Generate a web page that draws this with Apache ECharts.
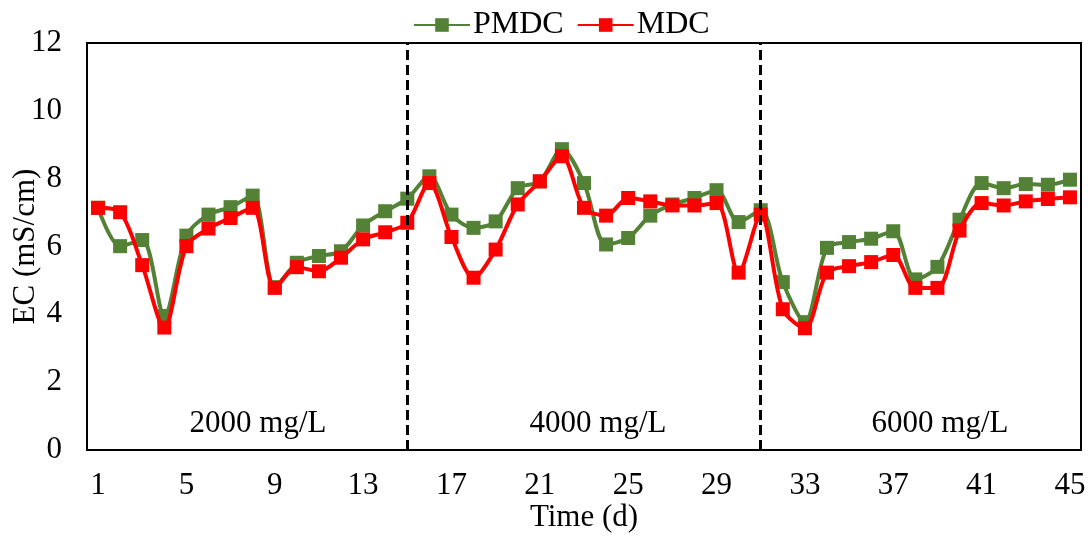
<!DOCTYPE html>
<html>
<head>
<meta charset="utf-8">
<script src="https://cdn.jsdelivr.net/npm/echarts@6/dist/echarts.min.js"></script>
<style>html,body{margin:0;padding:0;background:#fff;}#c{width:1091px;height:536px;}</style>
</head>
<body>
<div id="c"></div>
<script>
const days = Array.from({length: 45}, (_, i) => String(i + 1));
const pmdc = [7.14, 6.01, 6.19, 3.95, 6.32, 6.94, 7.16, 7.50, 4.80, 5.52, 5.72, 5.86, 6.62, 7.04, 7.41,
              8.07, 6.94, 6.55, 6.74, 7.72, 7.92, 8.87, 7.87, 6.06, 6.25, 6.91, 7.24, 7.43, 7.66, 6.72, 7.07,
              4.95, 3.77, 5.96, 6.13, 6.23, 6.45, 5.03, 5.40, 6.79, 7.87, 7.72, 7.84, 7.82, 7.97];
const mdc  = [7.14, 7.01, 5.45, 3.61, 6.01, 6.53, 6.84, 7.14, 4.78, 5.39, 5.27, 5.67, 6.21, 6.42, 6.70,
              7.87, 6.28, 5.08, 5.91, 7.24, 7.92, 8.66, 7.14, 6.91, 7.43, 7.33, 7.21, 7.21, 7.28, 5.23, 6.94,
              4.15, 3.59, 5.23, 5.42, 5.54, 5.75, 4.78, 4.78, 6.47, 7.28, 7.21, 7.33, 7.40, 7.45];
const dividers = ['15', '31'];
const regionLabels = ['2000 mg/L', '4000 mg/L', '6000 mg/L'];

const font = 'Liberation Serif';
const centers = [258, 598, 940];
const chart = echarts.init(document.getElementById('c'));
chart.setOption({
  animation: false,
  textStyle: {fontFamily: font},
  legend: {
    top: 4, left: 408,
    itemWidth: 56, itemHeight: 17, itemGap: 13,
    textStyle: {fontFamily: font, fontSize: 32, color: '#000', padding: [0, 0, 0, -2]},
    data: ['PMDC', 'MDC']
  },
  grid: {left: 87, right: 10, top: 43, bottom: 86, outerBoundsMode: 'none', containLabel: false,
         show: true, borderColor: '#000', borderWidth: 2, backgroundColor: 'transparent'},
  xAxis: {
    type: 'category', data: days, boundaryGap: true,
    name: 'Time (d)', nameLocation: 'middle', nameGap: 52, nameMoveOverlap: false,
    nameTextStyle: {fontFamily: font, fontSize: 31, color: '#000'},
    axisLine: {lineStyle: {color: '#000', width: 2}},
    axisTick: {show: false},
    axisLabel: {interval: 3, fontFamily: font, fontSize: 31, color: '#000', margin: 20},
    splitLine: {show: false}
  },
  yAxis: {
    type: 'value', min: 0, max: 12, interval: 2,
    name: 'EC (mS/cm)', nameLocation: 'middle', nameGap: 46, nameMoveOverlap: false,
    nameTextStyle: {fontFamily: font, fontSize: 31, color: '#000'},
    axisLine: {show: true, lineStyle: {color: '#000', width: 2}},
    axisTick: {show: false},
    axisLabel: {fontFamily: font, fontSize: 31, color: '#000', margin: 25},
    splitLine: {show: false}
  },
  graphic: regionLabels.map((t, i) => ({
    type: 'text', x: centers[i], y: 424, silent: true,
    style: {text: t, fontFamily: font, fontSize: 31, fill: '#000', align: 'center', verticalAlign: 'middle'}
  })),
  series: [
    {
      name: 'PMDC', type: 'line', data: pmdc, smooth: 0.3,
      symbol: 'rect', symbolSize: 14,
      itemStyle: {color: '#538135'}, lineStyle: {color: '#538135', width: 4},
      markLine: {
        silent: true, symbol: 'none', label: {show: false},
        lineStyle: {color: '#000', type: [10, 5], width: 3},
        data: dividers.map(d => ({xAxis: d}))
      },
      z: 2
    },
    {
      name: 'MDC', type: 'line', data: mdc, smooth: 0.3,
      symbol: 'rect', symbolSize: 14,
      itemStyle: {color: '#FF0000'}, lineStyle: {color: '#FF0000', width: 4},
      z: 3
    }
  ]
});
</script>
</body>
</html>
